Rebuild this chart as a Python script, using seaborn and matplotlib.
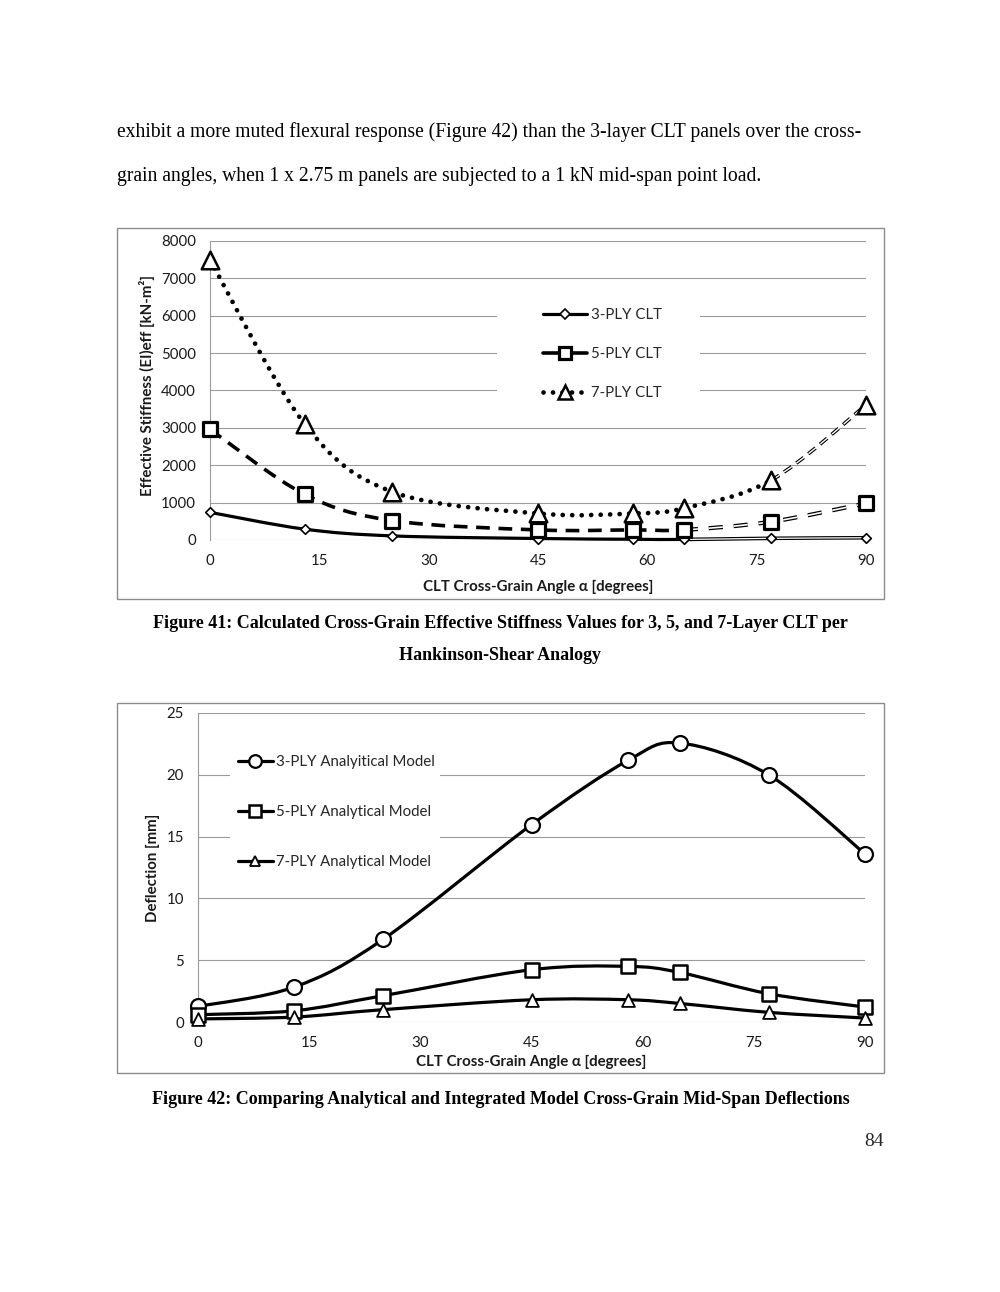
import numpy as np
import pandas as pd
import seaborn as sns
import matplotlib.pyplot as plt
from matplotlib.path import Path
from matplotlib.patches import PathPatch, Rectangle
from matplotlib.lines import Line2D

# angles (degrees) shared by both figures
angles = [0, 13, 25, 45, 58, 65, 77, 90]

# Figure 41: effective stiffness [kN-m2]
stiff_3ply = [740, 290, 110, 40, 20, 15, 45, 60]
stiff_5ply = [2960, 1220, 520, 270, 270, 270, 490, 980]
stiff_7ply = [7490, 3100, 1290, 710, 710, 850, 1600, 3610]

# Figure 42: mid-span deflection [mm]
defl_3ply = [1.26, 2.83, 6.7, 15.96, 21.16, 22.57, 20.0, 13.6]
defl_5ply = [0.59, 0.91, 2.13, 4.23, 4.5, 4.01, 2.29, 1.21]
defl_7ply = [0.25, 0.4, 1.0, 1.8, 1.8, 1.5, 0.78, 0.32]

labels41 = ['3-PLY CLT', '5-PLY CLT', '7-PLY CLT']
labels42 = ['3-PLY Analyitical Model', '5-PLY Analytical Model', '7-PLY Analytical Model']

W, H = 1000, 1292
FS = 10.8
sns.set_theme(style='white')
plt.rcParams['font.family'] = ['Lato', 'DejaVu Sans']
plt.rcParams['axes.unicode_minus'] = False

fig = plt.figure(figsize=(W / 100, H / 100), dpi=100)
fig.patch.set_facecolor('white')


def fx(px):
    return px / W


def fy(py):
    return 1 - py / H


def smooth(x, y, i0=0, i1=None):
    # excel style smoothed line: bezier segments through the data points
    pts = np.column_stack([x, y]).astype(float)
    n = len(pts)
    if i1 is None:
        i1 = n - 1
    verts, codes = [pts[i0]], [Path.MOVETO]
    for i in range(i0, i1):
        p0, p1, p2, p3 = pts[max(i - 1, 0)], pts[i], pts[i + 1], pts[min(i + 2, n - 1)]
        verts += [p1 + (p2 - p0) / 6, p2 - (p3 - p1) / 6, p2]
        codes += [Path.CURVE4] * 3
    return Path(verts, codes)


def curve(ax, x, y, i0=0, i1=None, **kw):
    kw.setdefault('fill', False)
    kw.setdefault('capstyle', 'butt')
    ax.add_patch(PathPatch(smooth(x, y, i0, i1), clip_on=False, zorder=3, **kw))


def frame(top, bottom):
    fig.patches.append(Rectangle((fx(117), fy(bottom)), fx(884) - fx(117), fy(top) - fy(bottom),
                                 transform=fig.transFigure, fill=False, ec='#8c8c8c', lw=1.0))


def style_axes(ax, ymax, ystep):
    ax.set_xlim(0, 90)
    ax.set_ylim(0, ymax)
    ax.set_xticks(range(0, 91, 15))
    ax.set_yticks(np.arange(0, ymax + 1, ystep))
    ax.grid(axis='y', color='#9a9a9a', lw=0.8)
    ax.set_axisbelow(True)
    for s in ['top', 'right', 'bottom']:
        ax.spines[s].set_visible(False)
    ax.spines['left'].set_color('#9a9a9a')
    ax.spines['left'].set_linewidth(0.8)
    ax.tick_params(length=0, pad=10, labelsize=FS, colors='#1a1a1a')
    ax.set_facecolor('white')


# ---- body text ----
body = dict(family='Liberation Serif', fontsize=14.1, color='black', va='center')
fig.text(fx(117), fy(132), 'exhibit a more muted flexural response (Figure 42) than the 3-layer CLT panels over the cross-', **body)
fig.text(fx(117), fy(177), 'grain angles, when 1 x 2.75 m panels are subjected to a 1 kN mid-span point load.', **body)

cap = dict(family='Liberation Serif', fontsize=13.0, weight='bold', color='black', va='center', ha='center')
fig.text(fx(500), fy(624), 'Figure 41: Calculated Cross-Grain Effective Stiffness Values for 3, 5, and 7-Layer CLT per', **cap)
fig.text(fx(500), fy(655), 'Hankinson-Shear Analogy', **cap)
fig.text(fx(501), fy(1099), 'Figure 42: Comparing Analytical and Integrated Model Cross-Grain Mid-Span Deflections', **cap)
fig.text(fx(884), fy(1142), '84', family='Liberation Serif', fontsize=14, ha='right', va='center')

# ---- Figure 41 ----
frame(228, 599)
ax1 = fig.add_axes([fx(210), fy(540), fx(866) - fx(210), fy(241) - fy(540)])
style_axes(ax1, 8000, 1000)
ax1.add_patch(Rectangle((fx(497), fy(405)), fx(700) - fx(497), fy(290) - fy(405),
                        transform=fig.transFigure, fc='white', ec='none', zorder=1))

# 3-ply: solid, then double line after 65 deg
curve(ax1, angles, stiff_3ply, 0, 5, ec='black', lw=2.3)
curve(ax1, angles, stiff_3ply, 5, None, ec='black', lw=2.6)
curve(ax1, angles, stiff_3ply, 5, None, ec='white', lw=0.9)
# 5-ply: dashed, then hollow dashes
curve(ax1, angles, stiff_5ply, 0, 5, ec='black', lw=2.6, ls=(0, (3.8, 2.4)))
curve(ax1, angles, stiff_5ply, 5, None, ec='black', lw=3.0, ls=(0, (3.4, 2.6)))
curve(ax1, angles, stiff_5ply, 5, None, ec='white', lw=1.2, ls=(0, (8.5, 6.5)))
# 7-ply: dotted, then hollow dashes
curve(ax1, angles, stiff_7ply, 0, 6, ec='black', lw=3.4, ls=(0, (0.01, 2.0)), capstyle='round')
curve(ax1, angles, stiff_7ply, 6, None, ec='black', lw=2.6, ls=(0, (2.6, 1.6)))
curve(ax1, angles, stiff_7ply, 6, None, ec='white', lw=1.0, ls=(0, (6.8, 4.2)))

df41 = pd.DataFrame({'angle': angles * 3,
                     'value': stiff_3ply + stiff_5ply + stiff_7ply,
                     'series': sum([[l] * len(angles) for l in labels41], [])})
mk41 = {'3-PLY CLT': ('D', 24, 1.2), '5-PLY CLT': ('s', 100, 2.3), '7-PLY CLT': ('^', 160, 1.8)}
for lab, (m, s, ew) in mk41.items():
    sns.scatterplot(data=df41[df41.series == lab], x='angle', y='value', marker=m, s=s,
                    color='white', edgecolor='black', linewidth=ew, ax=ax1, zorder=4,
                    clip_on=False, legend=False)

h41 = [Line2D([], [], color='black', lw=2.3, marker='D', ms=5, mfc='white', mec='black', mew=1.2),
       Line2D([], [], color='black', lw=2.6, marker='s', ms=9, mfc='white', mec='black', mew=2.3),
       Line2D([], [], color='black', lw=3.4, ls=(0, (0.01, 2.0)), dash_capstyle='round',
              marker='^', ms=10, mfc='white', mec='black', mew=1.8)]
ax1.legend(h41, labels41, loc='center left', bbox_to_anchor=(fx(543), fy(354)),
           bbox_transform=fig.transFigure, frameon=False, fontsize=FS, borderpad=0,
           borderaxespad=0, handlelength=2.9, handletextpad=0.27, labelspacing=1.68)

ax1.set_xlabel('CLT Cross-Grain Angle α [degrees]', fontsize=FS, weight='bold', color='#1a1a1a')
ax1.set_ylabel('Effective Stiffness (EI)eff [kN-m²]', fontsize=FS, weight='bold', color='#1a1a1a')
ax1.xaxis.set_label_coords(0.5, -(587 - 540) / 299)
ax1.xaxis.label.set_va('center')
ax1.yaxis.set_label_coords((147 - 210) / 656, (540 - 385) / 299)
ax1.yaxis.label.set_va('center')

# ---- Figure 42 ----
frame(703, 1073)
ax2 = fig.add_axes([fx(198), fy(1022), fx(865) - fx(198), fy(713) - fy(1022)])
style_axes(ax2, 25, 5)
ax2.add_patch(Rectangle((fx(230), fy(880)), fx(440) - fx(230), fy(742) - fy(880),
                        transform=fig.transFigure, fc='white', ec='none', zorder=1))

for ys in [defl_3ply, defl_5ply, defl_7ply]:
    curve(ax2, angles, ys, ec='black', lw=2.3)

df42 = pd.DataFrame({'angle': angles * 3,
                     'value': defl_3ply + defl_5ply + defl_7ply,
                     'series': sum([[l] * len(angles) for l in labels42], [])})
mk42 = dict(zip(labels42, [('o', 115, 1.6), ('s', 95, 1.8), ('^', 85, 1.3)]))
for lab, (m, s, ew) in mk42.items():
    sns.scatterplot(data=df42[df42.series == lab], x='angle', y='value', marker=m, s=s,
                    color='white', edgecolor='black', linewidth=ew, ax=ax2, zorder=4,
                    clip_on=False, legend=False)

h42 = [Line2D([], [], color='black', lw=2.3, marker=m, ms=np.sqrt(s) * 0.85, mfc='white',
              mec='black', mew=ew) for (m, s, ew) in mk42.values()]
ax2.legend(h42, labels42, loc='center left', bbox_to_anchor=(fx(238), fy(812)),
           bbox_transform=fig.transFigure, frameon=False, fontsize=FS, borderpad=0,
           borderaxespad=0, handlelength=2.3, handletextpad=0.2, labelspacing=2.4)

ax2.set_xlabel('CLT Cross-Grain Angle α [degrees]', fontsize=FS, weight='bold', color='#1a1a1a')
ax2.set_ylabel('Deflection [mm]', fontsize=FS, weight='bold', color='#1a1a1a')
ax2.xaxis.set_label_coords(0.5, -(1062 - 1022) / 309)
ax2.xaxis.label.set_va('center')
ax2.yaxis.set_label_coords((153 - 198) / 667, 0.5)
ax2.yaxis.label.set_va('center')

fig.savefig('out.png', dpi=100, facecolor='white')
